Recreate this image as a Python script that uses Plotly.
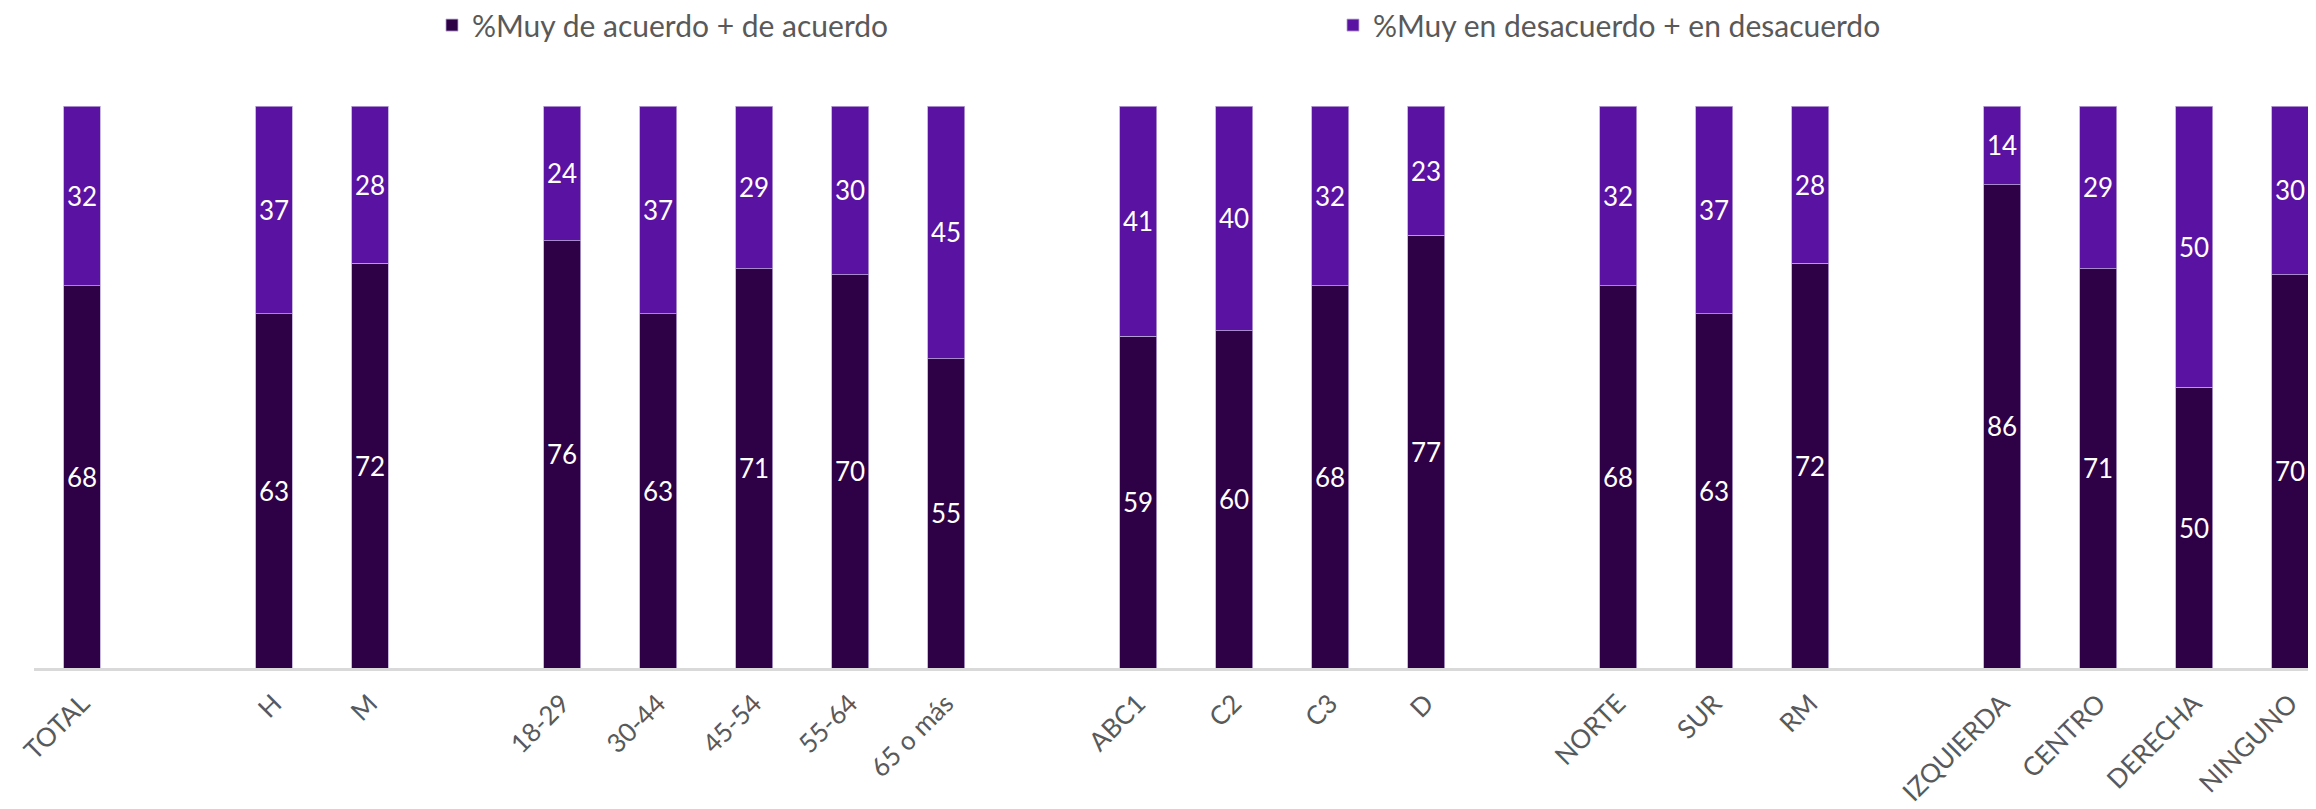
import plotly.graph_objects as go

# Categories (blank entries are the visual gaps between groups)
categories = ["TOTAL", " ",
              "H", "M", "  ",
              "18-29", "30-44", "45-54", "55-64", "65 o más", "   ",
              "ABC1", "C2", "C3", "D", "    ",
              "NORTE", "SUR", "RM", "     ",
              "IZQUIERDA", "CENTRO", "DERECHA", "NINGUNO"]

acuerdo = [68, None,
           63, 72, None,
           76, 63, 71, 70, 55, None,
           59, 60, 68, 77, None,
           68, 63, 72, None,
           86, 71, 50, 70]

desacuerdo = [32, None,
              37, 28, None,
              24, 37, 29, 30, 45, None,
              41, 40, 32, 23, None,
              32, 37, 28, None,
              14, 29, 50, 30]

series_names = ["%Muy de acuerdo + de acuerdo", "%Muy en desacuerdo + en desacuerdo"]
colors = ["#2E0046", "#5A12A2"]

FONT = "Lato"

fig = go.Figure()
for name, vals, col in zip(series_names, [acuerdo, desacuerdo], colors):
    fig.add_trace(go.Bar(
        x=categories, y=vals, name=name,
        marker=dict(color=col, line=dict(color="#B9A6D6", width=0.8)),
        text=[("" if v is None else str(v)) for v in vals],
        textposition="inside", insidetextanchor="middle", textangle=0,
        constraintext="none",
        textfont=dict(family=FONT, size=26, color="white"),
        hoverinfo="skip",
    ))

fig.update_layout(
    width=2308, height=801,
    barmode="stack", bargap=0.615,
    plot_bgcolor="white", paper_bgcolor="white",
    margin=dict(l=26, r=0, t=98, b=141, autoexpand=False),
    showlegend=True,
    legend=dict(orientation="h", x=0.1744, xanchor="left", y=1.144, yanchor="middle",
                traceorder="normal", entrywidth=856,
                font=dict(family=FONT, size=30, color="#595959"),
                bgcolor="rgba(0,0,0,0)"),
    xaxis=dict(type="category", categoryorder="array", categoryarray=categories,
               range=[-0.5, 23.27], tickangle=-45, showgrid=False,
               showline=True, linecolor="#D9D9D9", linewidth=3,
               ticks="", automargin=False, ticklabelstandoff=7,
               tickfont=dict(family=FONT, size=26, color="#595959")),
    yaxis=dict(range=[0, 100], visible=False, showgrid=False, zeroline=False),
    uniformtext=dict(minsize=8, mode="show"),
)

fig.write_html("out.html")
